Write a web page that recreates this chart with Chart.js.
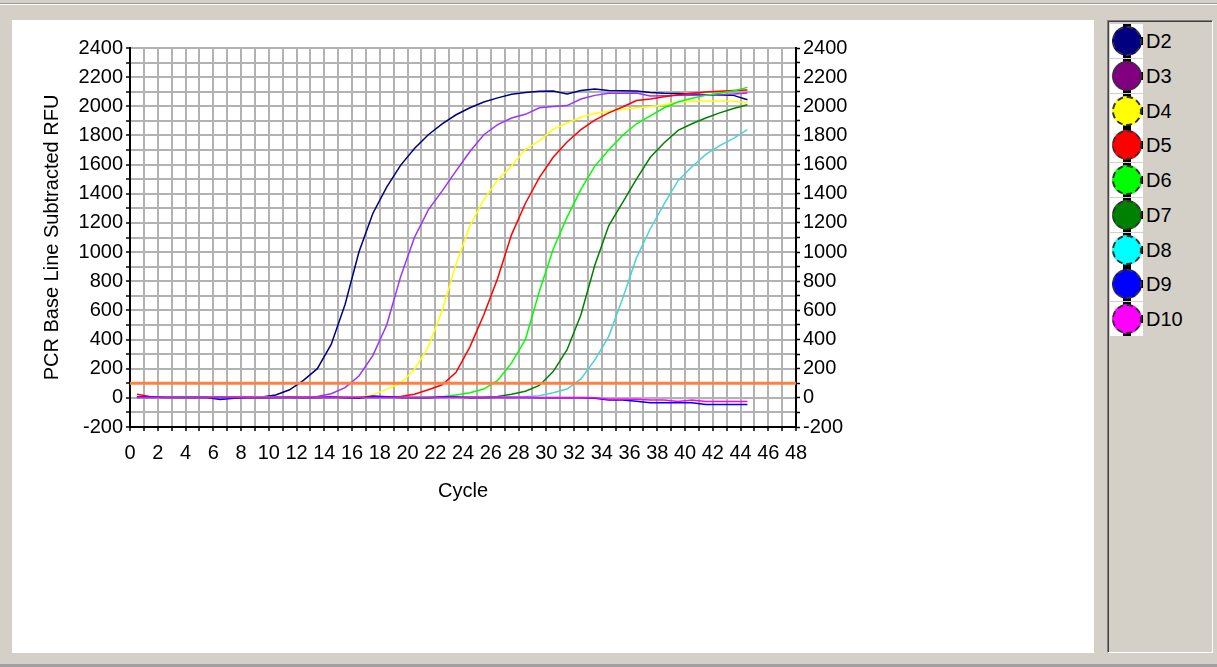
<!DOCTYPE html>
<html><head><meta charset="utf-8">
<script src="https://cdn.jsdelivr.net/npm/chart.js@4.4.1/dist/chart.umd.min.js"></script>
<style>
html,body{margin:0;padding:0;}
body{width:1217px;height:667px;background:#D4D0C8;position:relative;overflow:hidden;font-family:"Liberation Sans",Arial,sans-serif;}
#topline{position:absolute;left:0;top:3px;width:1217px;height:1px;background:#9A9A9A;}
#topline2{position:absolute;left:0;top:4px;width:1217px;height:1px;background:#FFFFFF;}
#bottomline{position:absolute;left:0;top:664px;width:1217px;height:3px;background:#A0A0A0;}
#panel{position:absolute;left:12px;top:20px;width:1082px;height:633px;background:#fff;}
#legend{position:absolute;left:1107px;top:20px;width:104px;height:631px;border-left:1px solid #808080;border-top:1px solid #808080;border-right:1px solid #fff;border-bottom:1px solid #fff;}
#legend-inner{position:absolute;left:0;top:0;right:0;bottom:0;border-left:1px solid #404040;border-top:1px solid #404040;}
.item{position:absolute;left:1px;width:33px;height:34px;background:#fff;}
.dot{position:absolute;left:1.5px;top:2px;width:26px;height:26px;border-radius:50%;border:2px dashed #333;}
.bar-t{position:absolute;left:13px;top:0;width:8px;height:3px;background:#000;}
.bar-b{position:absolute;left:13px;bottom:0;width:8px;height:3px;background:#000;}
.bar-r{position:absolute;left:30px;top:13px;width:3px;height:8px;background:#000;}
.lbl{position:absolute;left:36px;top:0;height:34px;line-height:34px;font-size:20px;color:#000;white-space:nowrap;}
#c{position:absolute;left:0;top:0;}
</style>
</head>
<body>
<div id="topline"></div><div id="topline2"></div>
<div id="panel"></div>
<div id="legend"><div id="legend-inner"></div></div>
<div id="bottomline"></div>
<canvas id="c" width="1217" height="667"></canvas>
<script>
// ---- data ----
const cyclePos = [0.5,1.5,2.5,3.5,4.5,5.5,6.5,7.5,8.5,9.5,10.5,11.5,12.5,13.5,14.5,15.5,16.5,17.5,18.5,19.5,20.5,21.5,22.5,23.5,24.5,25.5,26.5,27.5,28.5,29.5,30.5,31.5,32.5,33.5,34.5,35.5,36.5,37.5,38.5,39.5,40.5,41.5,42.5,43.5,44.5];
const seriesNames = ['D2','D3','D4','D5','D6','D7','D8','D9','D10'];
const lineColors = ['#000080','#9933FF','#FFFF00','#FF0000','#00FF00','#008000','#4CD3D3','#0000FF','#FF00FF'];
const legendColors = ['#000080','#800080','#FFFF00','#FF0000','#00FF00','#008000','#00FFFF','#0000FF','#FF00FF'];

const d2 = [5,3,5,5,3,2,2,4,4,6,20,55,120,200,366,640,1000,1265,1445,1595,1710,1805,1880,1942,1990,2030,2058,2082,2094,2103,2105,2085,2108,2118,2108,2106,2105,2095,2090,2088,2085,2080,2078,2075,2045];
const d3 = [3,4,5,5,4,3,3,4,5,5,4,5,6,10,28,70,150,290,500,830,1100,1290,1420,1557,1690,1805,1875,1920,1945,1990,1998,2005,2050,2075,2090,2090,2092,2070,2072,2075,2076,2078,2080,2085,2092];
const d4 = [3,3,4,4,3,3,2,3,3,4,4,3,3,4,5,5,6,20,60,100,195,350,600,916,1180,1360,1495,1590,1705,1763,1843,1885,1925,1952,1965,1980,1990,1997,2010,2030,2035,2036,2037,2035,2025];
const d5 = [25,8,4,3,3,2,3,4,4,3,3,4,4,3,3,4,4,5,5,10,25,55,90,175,350,570,820,1120,1335,1511,1650,1755,1840,1905,1955,1995,2040,2050,2065,2080,2090,2098,2103,2108,2112];
const d6 = [3,4,4,5,5,4,3,2,3,3,2,2,3,3,2,3,3,2,2,3,4,5,8,20,35,60,120,240,400,730,1020,1240,1430,1590,1700,1800,1880,1935,1990,2030,2055,2075,2090,2105,2130];
const d7 = [3,3,2,2,3,4,5,4,3,2,2,3,3,3,2,2,3,3,2,2,3,3,4,4,5,6,10,25,45,85,180,330,570,910,1180,1340,1500,1650,1750,1835,1880,1920,1955,1985,2010];
const d8 = [2,2,3,3,2,2,3,3,2,2,2,3,3,2,2,3,3,2,2,2,3,3,2,2,3,3,4,5,8,15,35,60,130,260,420,680,960,1160,1330,1490,1585,1670,1730,1780,1840];
const d9 = [5,5,3,3,2,2,-12,-3,0,0,2,2,0,3,5,0,-2,12,8,3,0,0,5,5,0,0,3,2,2,0,0,0,0,-2,-14,-14,-23,-34,-34,-34,-34,-46,-46,-46,-46];
const d10 = [2,2,2,2,2,2,2,2,2,2,2,2,2,2,2,2,2,2,2,2,2,2,2,2,2,2,2,2,2,2,2,2,2,0,-9,-9,-9,-14,-14,-25,-14,-25,-25,-25,-25];
const seriesValues = [d2,d3,d4,d5,d6,d7,d8,d9,d10];

const threshold = 100;
const X_MIN = 0, X_MAX = 48, X_STEP = 1, X_LABEL_STEP = 2;
const Y_MIN = -200, Y_MAX = 2400, Y_STEP = 100, Y_LABEL_STEP = 200;

// ---- legend (HTML) ----
const leg = document.getElementById('legend-inner');
seriesNames.forEach((name, i) => {
  const it = document.createElement('div');
  it.className = 'item';
  it.style.top = (2 + i * 34.75) + 'px';
  it.innerHTML = '<div class="bar-t"></div><div class="bar-b"></div><div class="bar-r"></div>' +
    '<div class="dot" style="background:' + legendColors[i] + '"></div>' +
    '<div class="lbl"></div>';
  it.querySelector('.lbl').textContent = name;
  leg.appendChild(it);
});

// ---- chart ----
Chart.defaults.font.family = '"Liberation Sans", Arial, sans-serif';
Chart.defaults.color = '#000';

const datasets = [{
  label: 'Threshold',
  data: [{x: X_MIN, y: threshold}, {x: X_MAX, y: threshold}],
  borderColor: '#FF8040',
  borderWidth: 3,
  pointRadius: 0,
  order: 0
}];
seriesNames.forEach((name, i) => {
  datasets.push({
    label: name,
    data: cyclePos.map((x, k) => ({x: x, y: seriesValues[i][k]})),
    borderColor: lineColors[i],
    backgroundColor: lineColors[i],
    borderWidth: 1.5,
    pointRadius: 0,
    tension: 0,
    fill: false,
    order: 20 - i
  });
});

const gridGray = '#B2B2B2';
new Chart(document.getElementById('c').getContext('2d'), {
  type: 'line',
  data: {datasets},
  options: {
    responsive: false,
    animation: false,
    devicePixelRatio: 1,
    layout: {padding: {left: 0, top: 48, right: 361, bottom: 150}},
    plugins: {legend: {display: false}, tooltip: {enabled: false}},
    scales: {
      x: {
        type: 'linear', position: 'bottom', min: X_MIN, max: X_MAX,
        ticks: {stepSize: X_STEP, maxTicksLimit: 200, autoSkip: false, maxRotation: 0, minRotation: 0, padding: 10,
          font: {size: 20}, color: '#000',
          callback: v => (v % X_LABEL_STEP === 0 ? String(v) : '')},
        grid: {color: gridGray, lineWidth: 2, tickColor: '#000', tickLength: 4, tickWidth: 1.5},
        border: {color: '#000', width: 2},
        title: {display: true, text: 'Cycle', color: '#000', font: {size: 20, lineHeight: 1.2}, padding: {top: 0, bottom: 14}},
        afterFit: s => { s.height = 90; }
      },
      y: {
        type: 'linear', position: 'left', min: Y_MIN, max: Y_MAX,
        ticks: {stepSize: Y_STEP, maxTicksLimit: 200, autoSkip: false, padding: 3, font: {size: 20}, color: '#000',
          callback: v => (v % Y_LABEL_STEP === 0 ? String(v) : '')},
        grid: {color: gridGray, lineWidth: 2, tickColor: '#000', tickLength: 4, tickWidth: 1.5},
        border: {color: '#000', width: 2},
        title: {display: true, text: 'PCR Base Line Subtracted RFU', color: '#000', font: {size: 20, lineHeight: 1.2}, padding: {top: 40, bottom: 0}},
        afterFit: s => { s.width = 130; }
      },
      y2: {
        type: 'linear', position: 'right', min: Y_MIN, max: Y_MAX,
        ticks: {stepSize: Y_STEP, maxTicksLimit: 200, autoSkip: false, padding: 3, font: {size: 20}, color: '#000',
          callback: v => (v % Y_LABEL_STEP === 0 ? String(v) : '')},
        grid: {drawOnChartArea: false, tickColor: '#000', tickLength: 4, tickWidth: 1.5},
        border: {color: '#000', width: 2},
        afterFit: s => { s.width = 60; }
      }
    }
  }
});
</script>
</body></html>
